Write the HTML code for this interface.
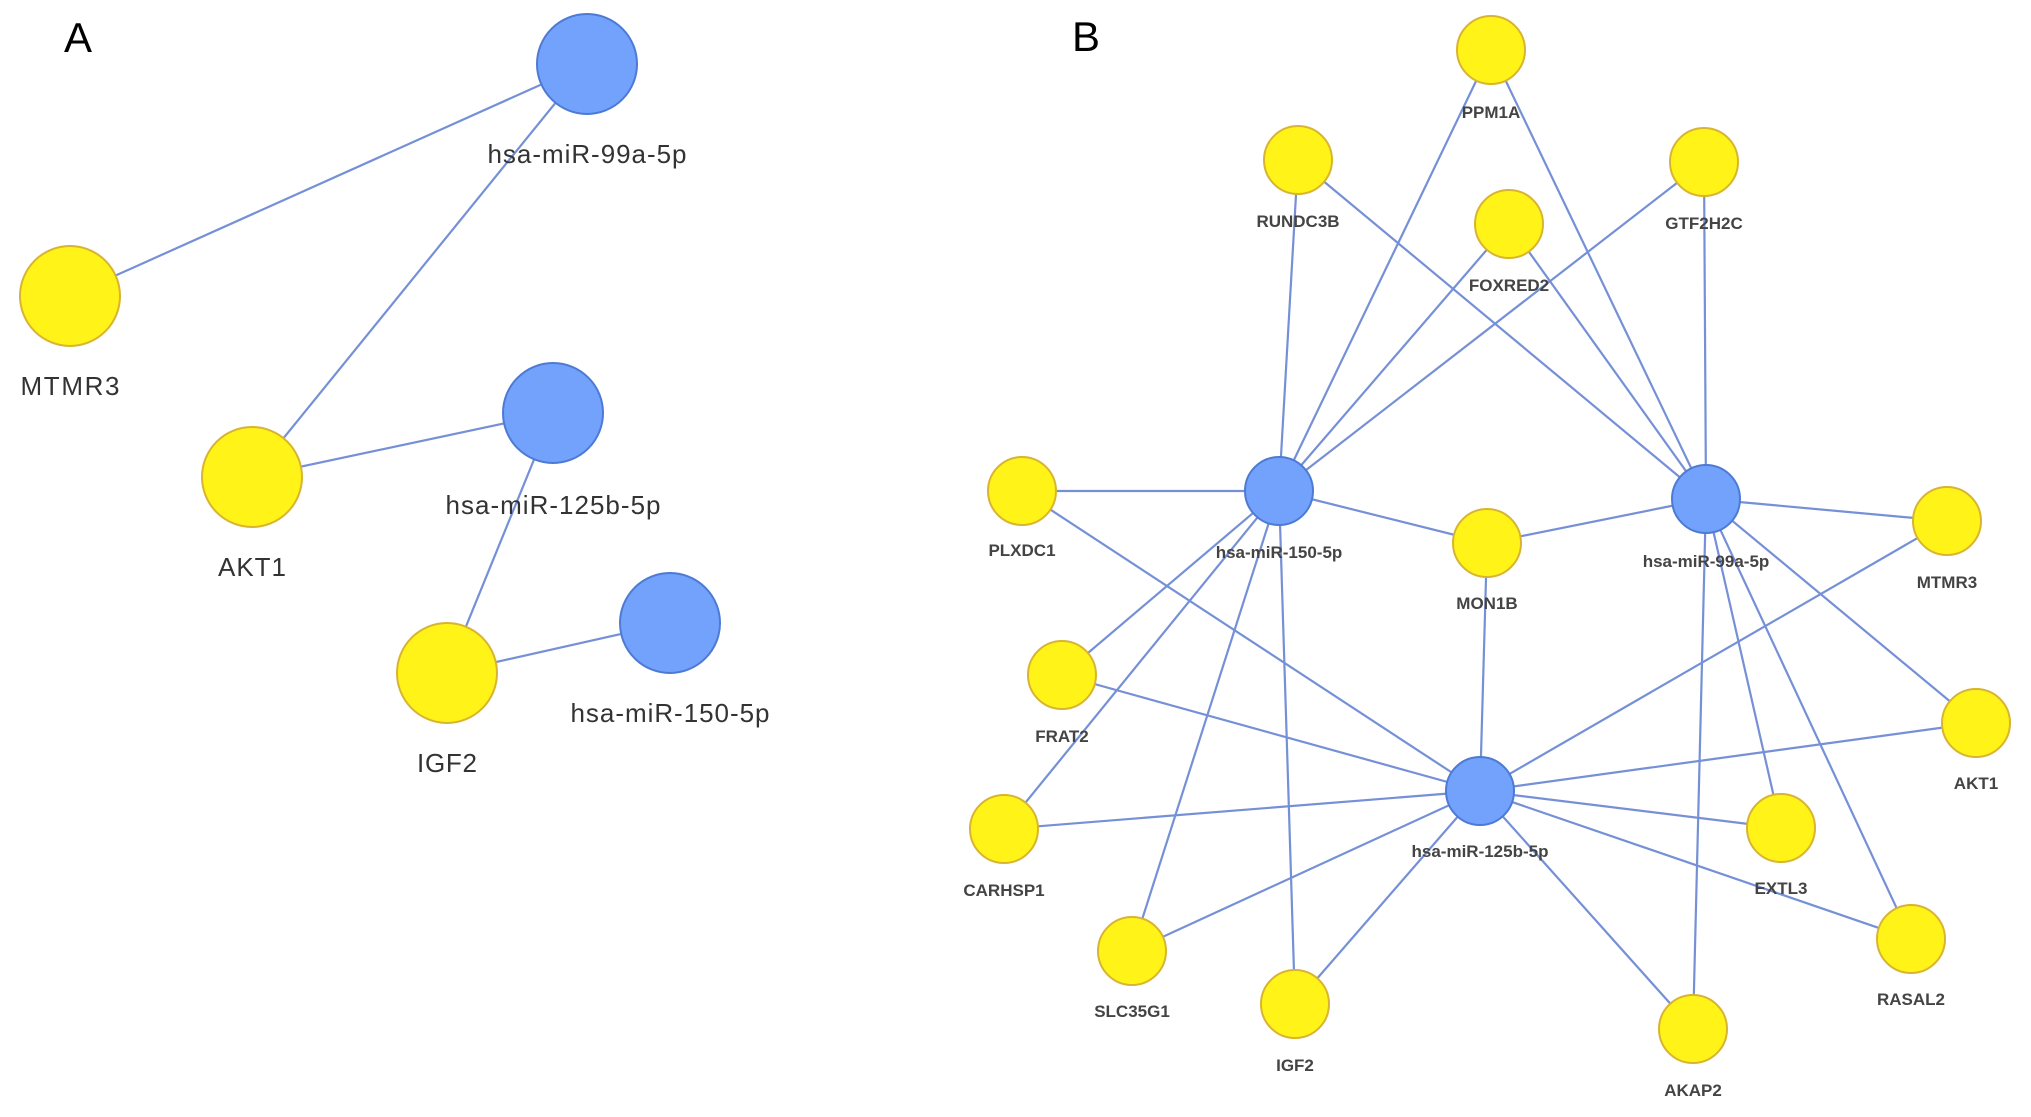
<!DOCTYPE html>
<html><head><meta charset="utf-8"><style>
html,body{margin:0;padding:0;background:#fff;}
svg{display:block;}
text{font-family:"Liberation Sans",Arial,sans-serif;fill:#333;text-anchor:middle;}
.la{font-size:26px;}
.lb{font-size:17px;font-weight:bold;fill:#444;}
.e{stroke:#7590d6;stroke-width:2.2;}
.y{fill:#fff318;stroke:#d8b430;stroke-width:2;}
.b{fill:#72a2fb;stroke:#4d7ad4;stroke-width:2;}
</style></head><body>
<svg width="2031" height="1117" viewBox="0 0 2031 1117">
<text x="78" y="52" style="font-size:42px;fill:#000">A</text>
<text x="1086" y="51" style="font-size:42px;fill:#000">B</text>
<!-- Panel A -->
<g class="e">
<line x1="587" y1="64" x2="70" y2="296"/>
<line x1="587" y1="64" x2="252" y2="477"/>
<line x1="553" y1="413" x2="252" y2="477"/>
<line x1="553" y1="413" x2="447" y2="673"/>
<line x1="670" y1="623" x2="447" y2="673"/>
</g>
<circle class="b" cx="587" cy="64" r="50"/>
<circle class="y" cx="70" cy="296" r="50"/>
<circle class="y" cx="252" cy="477" r="50"/>
<circle class="b" cx="553" cy="413" r="50"/>
<circle class="y" cx="447" cy="673" r="50"/>
<circle class="b" cx="670" cy="623" r="50"/>
<text class="la" x="587" y="163" textLength="199">hsa-miR-99a-5p</text>
<text class="la" x="70" y="395" textLength="99">MTMR3</text>
<text class="la" x="252" y="576" textLength="68">AKT1</text>
<text class="la" x="553" y="514" textLength="215">hsa-miR-125b-5p</text>
<text class="la" x="447" y="772" textLength="60">IGF2</text>
<text class="la" x="670" y="722" textLength="199">hsa-miR-150-5p</text>
<!-- Panel B -->
<g class="e">
<!-- 150 -->
<line x1="1279" y1="491" x2="1298" y2="160"/>
<line x1="1279" y1="491" x2="1491" y2="50"/>
<line x1="1279" y1="491" x2="1509" y2="224"/>
<line x1="1279" y1="491" x2="1704" y2="162"/>
<line x1="1279" y1="491" x2="1022" y2="491"/>
<line x1="1279" y1="491" x2="1487" y2="543"/>
<line x1="1279" y1="491" x2="1062" y2="675"/>
<line x1="1279" y1="491" x2="1004" y2="829"/>
<line x1="1279" y1="491" x2="1132" y2="951"/>
<line x1="1279" y1="491" x2="1295" y2="1004"/>
<!-- 99a -->
<line x1="1706" y1="499" x2="1298" y2="160"/>
<line x1="1706" y1="499" x2="1491" y2="50"/>
<line x1="1706" y1="499" x2="1509" y2="224"/>
<line x1="1706" y1="499" x2="1704" y2="162"/>
<line x1="1706" y1="499" x2="1487" y2="543"/>
<line x1="1706" y1="499" x2="1947" y2="521"/>
<line x1="1706" y1="499" x2="1976" y2="723"/>
<line x1="1706" y1="499" x2="1781" y2="828"/>
<line x1="1706" y1="499" x2="1911" y2="939"/>
<line x1="1706" y1="499" x2="1693" y2="1029"/>
<!-- 125b -->
<line x1="1480" y1="791" x2="1487" y2="543"/>
<line x1="1480" y1="791" x2="1022" y2="491"/>
<line x1="1480" y1="791" x2="1062" y2="675"/>
<line x1="1480" y1="791" x2="1004" y2="829"/>
<line x1="1480" y1="791" x2="1132" y2="951"/>
<line x1="1480" y1="791" x2="1295" y2="1004"/>
<line x1="1480" y1="791" x2="1693" y2="1029"/>
<line x1="1480" y1="791" x2="1911" y2="939"/>
<line x1="1480" y1="791" x2="1781" y2="828"/>
<line x1="1480" y1="791" x2="1976" y2="723"/>
<line x1="1480" y1="791" x2="1947" y2="521"/>
</g>
<g class="y">
<circle cx="1491" cy="50" r="34"/>
<circle cx="1298" cy="160" r="34"/>
<circle cx="1704" cy="162" r="34"/>
<circle cx="1509" cy="224" r="34"/>
<circle cx="1487" cy="543" r="34"/>
<circle cx="1022" cy="491" r="34"/>
<circle cx="1947" cy="521" r="34"/>
<circle cx="1062" cy="675" r="34"/>
<circle cx="1976" cy="723" r="34"/>
<circle cx="1004" cy="829" r="34"/>
<circle cx="1781" cy="828" r="34"/>
<circle cx="1132" cy="951" r="34"/>
<circle cx="1911" cy="939" r="34"/>
<circle cx="1295" cy="1004" r="34"/>
<circle cx="1693" cy="1029" r="34"/>
</g>
<g class="b">
<circle cx="1279" cy="491" r="34"/>
<circle cx="1706" cy="499" r="34"/>
<circle cx="1480" cy="791" r="34"/>
</g>
<g class="lb">
<text class="lb" x="1491" y="118">PPM1A</text>
<text class="lb" x="1298" y="227">RUNDC3B</text>
<text class="lb" x="1704" y="229">GTF2H2C</text>
<text class="lb" x="1509" y="291">FOXRED2</text>
<text class="lb" x="1279" y="558">hsa-miR-150-5p</text>
<text class="lb" x="1706" y="567">hsa-miR-99a-5p</text>
<text class="lb" x="1487" y="609">MON1B</text>
<text class="lb" x="1022" y="556">PLXDC1</text>
<text class="lb" x="1947" y="588">MTMR3</text>
<text class="lb" x="1062" y="742">FRAT2</text>
<text class="lb" x="1976" y="789">AKT1</text>
<text class="lb" x="1480" y="857">hsa-miR-125b-5p</text>
<text class="lb" x="1004" y="896">CARHSP1</text>
<text class="lb" x="1781" y="894">EXTL3</text>
<text class="lb" x="1132" y="1017">SLC35G1</text>
<text class="lb" x="1911" y="1005">RASAL2</text>
<text class="lb" x="1295" y="1071">IGF2</text>
<text class="lb" x="1693" y="1096">AKAP2</text>
</g>
</svg>
</body></html>
